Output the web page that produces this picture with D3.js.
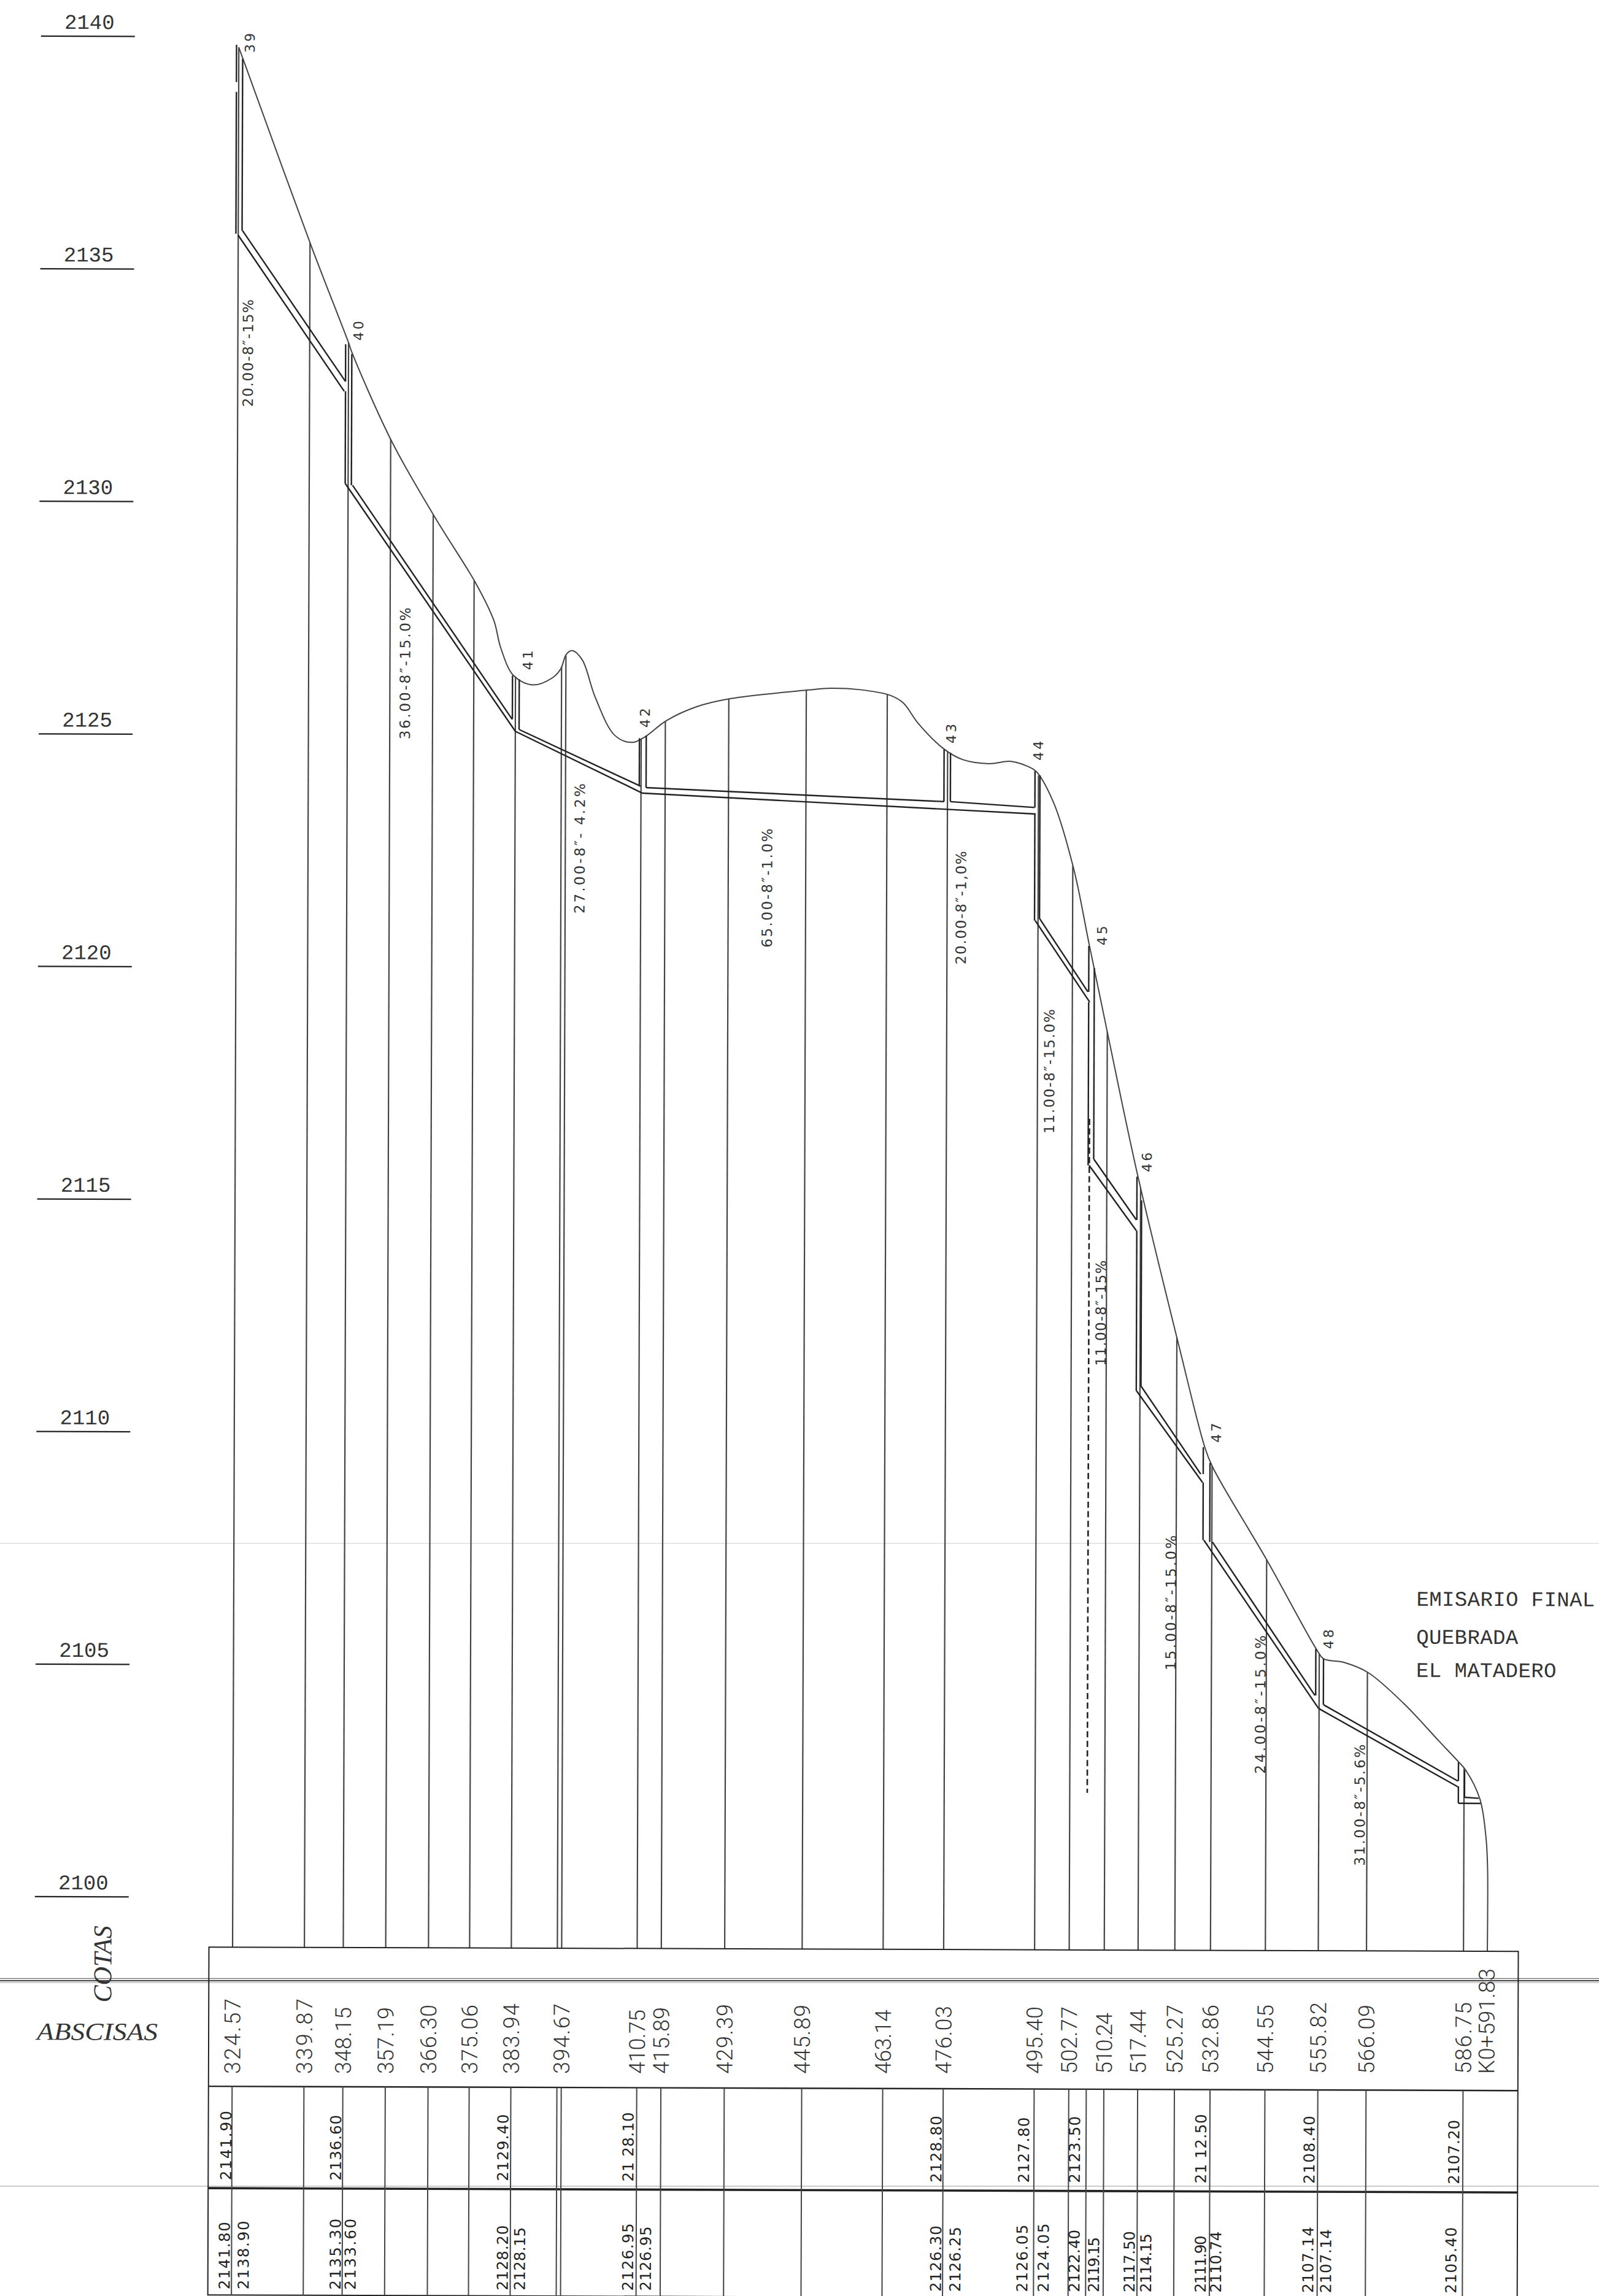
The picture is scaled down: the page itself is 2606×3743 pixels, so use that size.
<!DOCTYPE html>
<html>
<head>
<meta charset="utf-8">
<title>Emisario final</title>
<script src="https://cdnjs.cloudflare.com/ajax/libs/d3/7.8.5/d3.min.js"></script>
<style>
html, body { margin: 0; padding: 0; background: #fff; }
svg { display: block; }
</style>
</head>
<body>
<div id="chart"></div>
<script>
// elevations on the axis
var cotaTicks = [2100, 2105, 2110, 2115, 2120, 2125, 2130, 2135, 2140];

// abscissas written in the table
var abscisas = [324.57, 339.87, 348.15, 357.19, 366.30, 375.06, 383.94, 394.67, 410.75, 415.89, 429.39,
    445.89, 463.14, 476.03, 495.40, 502.77, 510.24, 517.44, 525.27, 532.86, 544.55, 555.82, 566.09, 586.75];
var abscisaSpan = [123, 123, 109, 109, 113, 113, 115, 115, 105, 109, 114,
    113, 105, 111, 110, 110, 100, 105, 113, 113, 113, 117, 113, 117];
var lastAbscisa = 591.83;
var extraProfileLines = [393.75];   // second line beside 394.67
var extraTableLines = [393.75, 506.50];

// terrain profile
var groundStation = [324.54, 325.46, 340.17, 348.13, 349.01, 357.49, 366.82, 375.48, 379.30, 380.76, 383.52, 387.59,
    391.75, 393.58, 394.75, 396.05, 398.16, 400.93, 405.14, 408.80, 411.54, 416.10, 422.49, 429.81,
    446.33, 450.97, 457.37, 463.78, 466.53, 469.75, 475.26, 479.38, 484.87, 489.44, 492.71, 494.94,
    498.62, 502.98, 506.30, 510.55, 516.65, 525.78, 531.29, 532.93, 544.63, 555.41, 556.72, 561.16,
    566.15, 573.88, 581.35, 585.68, 587.12, 590.15, 591.48, 591.83, 591.83];
var groundElev = [2139.77, 2139.52, 2135.49, 2133.43, 2133.18, 2131.29, 2129.65, 2128.25, 2127.46, 2126.88, 2126.28, 2126.08,
    2126.23, 2126.43, 2126.74, 2126.82, 2126.62, 2125.82, 2125.00, 2124.85, 2124.97, 2125.32, 2125.62, 2125.80,
    2125.99, 2126.03, 2126.00, 2125.88, 2125.72, 2125.28, 2124.73, 2124.50, 2124.42, 2124.47, 2124.38, 2124.25,
    2123.59, 2122.16, 2120.55, 2118.51, 2115.65, 2111.89, 2109.74, 2109.32, 2107.31, 2105.37, 2105.20, 2105.12,
    2104.91, 2104.24, 2103.44, 2102.98, 2102.81, 2102.19, 2101.35, 2100.68, 2098.92];

// sewer pipe walls: station and elevation at both ends
var pipeFromS = [325.45, 324.54, 349.10, 347.52, 384.74, 383.95, 411.83, 411.06, 476.66, 495.69, 494.79,
    507.49, 506.46, 517.59, 516.68, 532.99, 531.16, 556.76, 555.71, 586.88, 585.57];
var pipeFromE = [2135.83, 2135.73, 2130.36, 2130.40, 2125.12, 2125.08, 2123.88, 2123.76, 2123.60, 2121.10, 2121.05,
    2115.92, 2115.79, 2111.06, 2110.95, 2107.70, 2107.74, 2104.21, 2104.13, 2102.23, 2102.10];
var pipeToS = [347.52, 347.26, 383.26, 383.95, 410.65, 411.06, 475.30, 494.84, 494.57, 506.07, 506.47,
    516.56, 516.56, 530.45, 530.85, 554.92, 555.71, 585.43, 585.69, 589.88, 590.27];
var pipeToE = [2132.59, 2132.38, 2125.34, 2125.08, 2123.91, 2123.76, 2123.60, 2123.34, 2123.48, 2119.52, 2119.30,
    2114.62, 2114.39, 2109.16, 2108.98, 2104.41, 2104.13, 2102.58, 2102.44, 2102.21, 2102.10];

// manhole walls
var wallStation = [324.08, 324.08, 325.39, 347.53, 347.53, 348.85, 383.30, 384.74, 410.38, 411.83, 475.28, 476.65,
    494.66, 494.66, 495.72, 506.25, 506.25, 507.43, 516.66, 516.66, 517.66, 530.98, 530.98, 532.42,
    555.09, 556.73, 585.55, 585.55, 586.86];
var wallTop = [2139.82, 2138.81, 2139.52, 2133.39, 2132.38, 2133.18, 2126.28, 2126.20, 2124.94, 2125.00, 2124.72, 2124.65,
    2124.26, 2123.34, 2124.17, 2120.51, 2119.30, 2120.03, 2115.55, 2114.39, 2115.04, 2109.74, 2108.98, 2109.40,
    2105.41, 2105.20, 2102.98, 2102.44, 2102.81];
var wallBottom = [2139.02, 2135.76, 2135.83, 2132.59, 2130.40, 2130.36, 2125.34, 2125.12, 2123.91, 2123.88, 2123.60, 2123.60,
    2123.48, 2121.05, 2121.10, 2119.52, 2115.79, 2115.92, 2114.62, 2110.95, 2111.06, 2109.16, 2107.74, 2107.70,
    2104.41, 2104.21, 2102.58, 2102.10, 2102.23];

// dashed drop at manhole 45
var dropStation = 506.50;
var dropElev = [2116.79, 2102.30];

// manhole numbers
var manholeNames = ["39", "40", "41", "42", "43", "44", "45", "46", "47", "48"];
var manholeStation = [327.94, 351.27, 387.57, 412.57, 477.80, 496.37, 510.09, 519.79, 534.75, 558.81];
var manholeElev = [2139.65, 2133.47, 2126.40, 2125.17, 2124.85, 2124.49, 2120.52, 2115.65, 2109.84, 2105.41];

// pipe notes
var pipeNotes = ["20.00-8\u2033-15%", "36.00-8\u2033-15.0%", "27.00-8\u2033- 4.2%", "65.00-8\u2033-1.0%", "20.00-8\u2033-1,0%",
    "11.00-8\u2033-15.0%", "11.00-8\u2033-15%", "15.00-8\u2033-15.0%", "24.00-8\u2033-15.0%", "31.00-8\u2033-5.6%"];
var noteStation = [327.80, 361.49, 398.80, 438.74, 480.05, 498.98, 510.12, 525.24, 544.38, 565.62];
var noteElev = [2132.04, 2124.90, 2121.17, 2120.45, 2120.10, 2116.47, 2111.48, 2104.94, 2102.72, 2100.75];
var noteSpan = [175, 215, 212, 194, 185, 203, 172, 220, 226, 198];

// second table row, placed by the station of the text baseline
var rasanteText = ["2141.90", "2136.60", "2129.40", "21 28.10", "2128.80", "2127.80", "2123.50", "21 12.50", "2108.40", "2107.20"];
var rasanteStation = [324.44, 347.82, 383.42, 410.10, 475.70, 494.35, 505.19, 532.08, 555.17, 585.97];
var rasanteSpan = [113, 107, 109, 113, 109, 107, 109, 113, 111, 105];

// third table row, same idea
var claveText = ["2141.80", "2138.90", "2135.30", "2133.60", "2128.20", "2128.15", "2126.95", "2126.95", "2126.30", "2126.25",
    "2126.05", "2124.05", "2122.40", "2119.15", "2117.50", "2114.15", "2111.90", "2110.74", "2107.14", "2107.14", "2105.40"];
var claveStation = [324.18, 328.23, 347.82, 351.00, 383.42, 387.08, 410.10, 413.89, 475.70, 479.82,
    494.09, 498.61, 505.19, 509.34, 516.92, 520.45, 532.08, 535.34, 554.97, 558.76, 585.44];
var claveSpan = [110, 112, 116, 116, 106, 103, 110, 105, 108, 106, 110, 112, 102, 90, 100, 96, 93, 100, 108, 104, 108];

var titleLines = ["EMISARIO FINAL", "QUEBRADA", "EL MATADERO"];

var w = 2606, h = 3743;
var tilt = 0.189;   // the sheet sits slightly crooked on the scan

var tableLeft = 351, tableRight = 2485;
var rowTop = 3173, rowAbs = 3400, rowRas = 3566, rowEnd = 3740;

var ink = "#333";
var mono = "'Liberation Mono', monospace";
var sans = "'DejaVu Sans', sans-serif";
var light = "Roboto, 'Liberation Sans', sans-serif";
var serif = "'Liberation Serif', serif";

var x = d3.scaleLinear().domain([324.57, 591.83]).range([389.5, 2434.5]);
var y = d3.scaleLinear().domain([2100, 2140]).range([3091.2, 58.2]);

var svg = d3.select("#chart").append("svg")
    .attr("width", w)
    .attr("height", h)
    .style("background", "#fff");

// scanner seams, these stay level
var seams = svg.append("g").attr("fill", "none");
[[2516, "#ccc", 1.2], [3225.5, "#777", 1.6], [3229, "#444", 1.8], [3232, "#999", 1.2], [3564, "#bbb", 1.4]].forEach(function(d) {
    seams.append("line")
        .attr("x1", 0).attr("x2", w)
        .attr("y1", d[0]).attr("y2", d[0])
        .attr("stroke", d[1])
        .attr("stroke-width", d[2]);
});

var sheet = svg.append("g").attr("transform", "rotate(" + tilt + ")");

// cotas axis, the label sits on top of its line
var axis = d3.axisRight(y).tickValues(cotaTicks).tickSize(153).tickFormat(d3.format("d"));
var axisG = sheet.append("g")
    .attr("transform", "translate(67,0)")
    .call(axis);
axisG.select(".domain").remove();
axisG.selectAll(".tick line").attr("stroke", "#222").attr("stroke-width", 2.2);
axisG.selectAll(".tick text")
    .attr("x", 79)
    .attr("dy", -12)
    .attr("text-anchor", "middle")
    .attr("font-family", mono)
    .attr("font-size", 34)
    .attr("fill", ink);

// ground level at a station
var groundAt = d3.scaleLinear().domain(groundStation.slice(0, -1)).range(groundElev.slice(0, -1));

// lines from the profile down to the table
var profileLines = abscisas.concat(extraProfileLines);
sheet.selectAll(".stationLine")
    .data(profileLines)
    .enter()
    .append("line")
    .attr("class", "stationLine")
    .attr("x1", function(d) { return x(d); })
    .attr("x2", function(d) { return x(d); })
    .attr("y1", function(d) { return y(groundAt(d)); })
    .attr("y2", rowTop)
    .attr("stroke", "#444")
    .attr("stroke-width", 2.2);

// terrain
var groundLine = d3.line()
    .x(function(d) { return x(d[0]); })
    .y(function(d) { return y(d[1]); })
    .curve(d3.curveCatmullRom.alpha(0.5));
sheet.append("path")
    .datum(d3.zip(groundStation, groundElev))
    .attr("d", groundLine)
    .attr("fill", "none")
    .attr("stroke", "#444")
    .attr("stroke-width", 2);

// pipes
sheet.selectAll(".pipe")
    .data(d3.range(pipeFromS.length))
    .enter()
    .append("line")
    .attr("class", "pipe")
    .attr("x1", function(i) { return x(pipeFromS[i]); })
    .attr("y1", function(i) { return y(pipeFromE[i]); })
    .attr("x2", function(i) { return x(pipeToS[i]); })
    .attr("y2", function(i) { return y(pipeToE[i]); })
    .attr("stroke", "#222")
    .attr("stroke-width", 2.4);

// manholes
sheet.selectAll(".wall")
    .data(d3.range(wallStation.length))
    .enter()
    .append("line")
    .attr("class", "wall")
    .attr("x1", function(i) { return x(wallStation[i]); })
    .attr("x2", function(i) { return x(wallStation[i]); })
    .attr("y1", function(i) { return y(wallTop[i]); })
    .attr("y2", function(i) { return y(wallBottom[i]); })
    .attr("stroke", "#222")
    .attr("stroke-width", 2.4);

sheet.append("line")
    .attr("x1", x(dropStation)).attr("x2", x(dropStation))
    .attr("y1", y(dropElev[0])).attr("y2", y(dropElev[1]))
    .attr("stroke", "#222")
    .attr("stroke-width", 2.6)
    .attr("stroke-dasharray", "10 5.6");

// vertical text helper, text starts at the bottom and reads upward
function upText(sel, px, py) {
    return sel.attr("transform", function(d, i) {
        return "translate(" + px(d, i) + "," + py(d, i) + ") rotate(-90)";
    }).attr("fill", ink);
}

upText(sheet.selectAll(".mh").data(manholeNames).enter().append("text").attr("class", "mh"),
    function(d, i) { return x(manholeStation[i]); },
    function(d, i) { return y(manholeElev[i]); })
    .text(function(d) { return d; })
    .attr("font-family", sans)
    .attr("font-size", 22)
    .attr("letter-spacing", 4);

upText(sheet.selectAll(".note").data(pipeNotes).enter().append("text").attr("class", "note"),
    function(d, i) { return x(noteStation[i]); },
    function(d, i) { return y(noteElev[i]); })
    .text(function(d) { return d; })
    .attr("font-family", sans)
    .attr("font-size", 23)
    .attr("textLength", function(d, i) { return noteSpan[i]; });

// title note
sheet.selectAll(".title")
    .data(titleLines)
    .enter()
    .append("text")
    .attr("class", "title")
    .attr("x", 2317)
    .attr("y", function(d, i) { return [2610, 2672, 2726][i]; })
    .text(function(d) { return d; })
    .attr("font-family", mono)
    .attr("font-size", 34)
    .attr("letter-spacing", 0.4)
    .attr("fill", ink);

// table frame
var frame = sheet.append("g").attr("stroke", "#222").attr("fill", "none");
frame.append("rect")
    .attr("x", tableLeft).attr("y", rowTop)
    .attr("width", tableRight - tableLeft).attr("height", rowEnd - rowTop)
    .attr("stroke-width", 2);
frame.append("line").attr("x1", tableLeft).attr("x2", tableRight).attr("y1", rowAbs).attr("y2", rowAbs).attr("stroke-width", 2.4);
frame.append("line").attr("x1", tableLeft).attr("x2", tableRight).attr("y1", rowRas).attr("y2", rowRas).attr("stroke-width", 3.6);

// lines through the two lower rows
var tableLines = abscisas.concat(extraTableLines);
sheet.selectAll(".tableLine")
    .data(tableLines)
    .enter()
    .append("line")
    .attr("class", "tableLine")
    .attr("x1", function(d) { return x(d); })
    .attr("x2", function(d) { return x(d); })
    .attr("y1", rowAbs)
    .attr("y2", rowEnd)
    .attr("stroke", "#444")
    .attr("stroke-width", 2);

// abscissa row, the writing runs level on the page
upText(sheet.selectAll(".abs").data(abscisas).enter().append("text").attr("class", "abs"),
    function(d) { return x(d) + 13; },
    function(d) { return 3381 - x(d) * 0.0033; })
    .text(function(d) { return d3.format(".2f")(d); })
    .attr("font-family", light)
    .attr("font-weight", 300)
    .attr("font-size", 36)
    .attr("textLength", function(d, i) { return abscisaSpan[i]; });
upText(sheet.append("text").datum(lastAbscisa),
    function(d) { return x(d) + 12; },
    function(d) { return 3381 - x(d) * 0.0033; })
    .text(function(d) { return "K0+" + d3.format(".2f")(d); })
    .attr("font-family", light)
    .attr("font-weight", 300)
    .attr("font-size", 36)
    .attr("textLength", 172);

upText(sheet.selectAll(".ras").data(rasanteText).enter().append("text").attr("class", "ras"),
    function(d, i) { return x(rasanteStation[i]); },
    function() { return 3553; })
    .text(function(d) { return d; })
    .attr("font-family", sans)
    .attr("font-size", 24.5)
    .attr("fill", "#222")
    .attr("textLength", function(d, i) { return rasanteSpan[i]; });

upText(sheet.selectAll(".clave").data(claveText).enter().append("text").attr("class", "clave"),
    function(d, i) { return x(claveStation[i]); },
    function() { return 3731; })
    .text(function(d) { return d; })
    .attr("font-family", sans)
    .attr("font-size", 24.5)
    .attr("fill", "#222")
    .attr("textLength", function(d, i) { return claveSpan[i]; });

// row titles
upText(sheet.append("text").datum("COTAS"),
    function() { return 192; },
    function() { return 3264; })
    .text(function(d) { return d; })
    .attr("font-family", serif)
    .attr("font-style", "italic")
    .attr("font-size", 42);
sheet.append("text")
    .attr("x", 71)
    .attr("y", 3325)
    .text("ABSCISAS")
    .attr("font-family", serif)
    .attr("font-style", "italic")
    .attr("font-size", 40)
    .attr("textLength", 197)
    .attr("lengthAdjust", "spacingAndGlyphs")
    .attr("fill", ink);
</script>
</body>
</html>
